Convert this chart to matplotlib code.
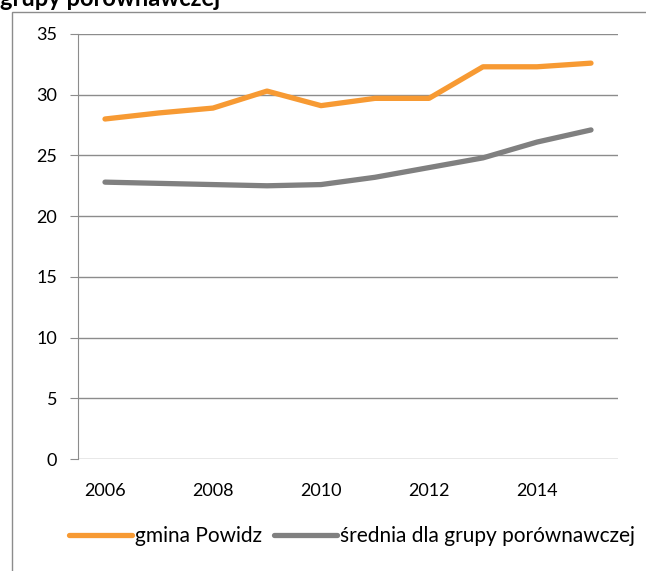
import matplotlib.pyplot as plt
from matplotlib.patches import Rectangle

years = [2006, 2007, 2008, 2009, 2010, 2011, 2012, 2013, 2014, 2015]
powidz = [28.0, 28.5, 28.9, 30.3, 29.1, 29.7, 29.7, 32.3, 32.3, 32.6]
srednia = [22.8, 22.7, 22.6, 22.5, 22.6, 23.2, 24.0, 24.8, 26.1, 27.1]
xticks = [2006, 2008, 2010, 2012, 2014]

plt.rcParams['font.family'] = ['Lato', 'DejaVu Sans']

fig = plt.figure(figsize=(6.46, 5.71), dpi=100)
ax = fig.add_axes([78/646, 1 - 459/571, 540/646, 425/571])

ax.plot(years, powidz, color='#F79A33', lw=3.8, solid_capstyle='round', solid_joinstyle='round', label='gmina Powidz')
ax.plot(years, srednia, color='#808080', lw=3.8, solid_capstyle='round', solid_joinstyle='round', label='średnia dla grupy porównawczej')

ax.set_xlim(2005.5, 2015.5)
ax.set_ylim(0, 35)
ax.set_yticks(range(0, 36, 5))
ax.set_xticks(xticks)
ax.yaxis.grid(True, color='#8c8c8c', lw=1)
ax.set_axisbelow(True)
for s in ['top', 'right', 'bottom']:
    ax.spines[s].set_visible(False)
ax.spines['left'].set_color('#8c8c8c')
ax.tick_params(axis='y', length=6, color='#8c8c8c', labelsize=13, pad=9)
ax.tick_params(axis='x', length=0, labelsize=13, pad=17)

fig.legend(loc='center', bbox_to_anchor=(0.545, 1 - 536/571), ncol=2, frameon=False,
           fontsize=15, handlelength=3.0, handletextpad=0.15, columnspacing=0.6)

# ramka wykresu
fig.patches.append(Rectangle((12/646, -0.05), 700/646, 1 - 12/571 + 0.05, transform=fig.transFigure,
                             fill=False, edgecolor='#8c8c8c', lw=1))
fig.text(0, 1 - 6/571, 'grupy porównawczej', fontsize=17, fontweight='bold', va='baseline')

fig.savefig('out.png', dpi=100)
